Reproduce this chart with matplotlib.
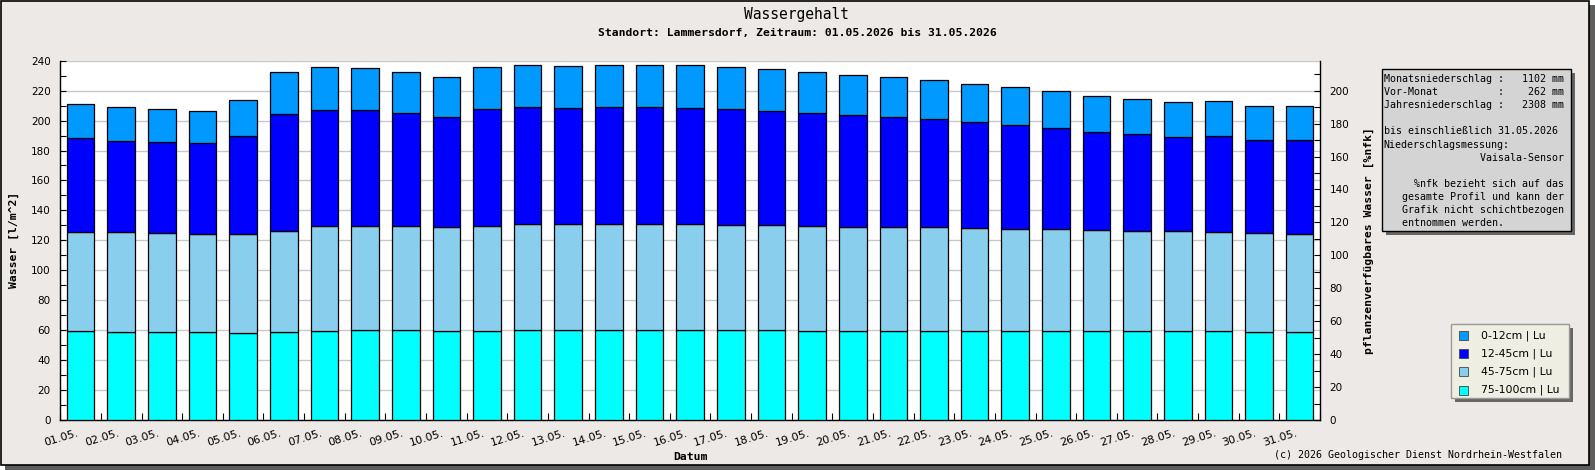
import matplotlib
matplotlib.use('Agg')
import matplotlib.pyplot as plt
import matplotlib.transforms as mtransforms
from matplotlib.patches import Rectangle
from matplotlib.ticker import MultipleLocator
import numpy as np

W, H = 1595, 470

days = [f"{d:02d}.05." for d in range(1, 32)]

layer_75_100 = [59.3, 58.7, 58.7, 58.7, 58.0, 58.7, 59.3, 60.0, 60.0, 59.3,
                59.3, 60.0, 60.0, 60.0, 60.0, 60.0, 60.0, 60.0, 59.3, 59.3,
                59.3, 59.3, 59.3, 59.3, 59.3, 59.3, 59.3, 59.3, 59.3, 58.7, 58.7]
layer_45_75 = [66.5, 67.1, 66.4, 65.7, 66.4, 67.7, 70.5, 69.8, 69.8, 69.8,
               70.5, 71.1, 71.1, 71.1, 71.1, 71.1, 70.4, 70.4, 70.5, 69.8,
               69.8, 69.8, 69.1, 68.5, 68.5, 67.8, 67.1, 67.1, 66.5, 66.4, 65.7]
layer_12_45 = [62.9, 60.6, 60.9, 60.3, 65.6, 78.3, 77.5, 77.5, 75.5, 73.6,
               78.2, 78.0, 77.6, 78.0, 78.0, 77.6, 77.6, 76.3, 75.5, 74.9,
               73.6, 72.2, 70.9, 69.5, 67.5, 65.6, 64.9, 62.9, 64.2, 62.2, 62.9]
layer_0_12 = [22.4, 22.7, 21.8, 21.7, 24.0, 28.0, 28.5, 27.8, 27.4, 26.6,
              27.8, 28.0, 27.7, 28.0, 28.0, 28.4, 27.8, 27.7, 27.4, 26.7,
              26.6, 26.0, 25.4, 25.4, 24.7, 24.0, 23.4, 23.4, 23.3, 22.7, 22.7]

series_labels = ["0-12cm | Lu", "12-45cm | Lu", "45-75cm | Lu", "75-100cm | Lu"]
series_colors = ["#0099FF", "#0000FF", "#8ACEEE", "#00FFFF"]

info_lines = [
    "Monatsniederschlag :   1102 mm",
    "Vor-Monat          :    262 mm",
    "Jahresniederschlag :   2308 mm",
    "",
    "bis einschließlich 31.05.2026",
    "Niederschlagsmessung:",
    "                Vaisala-Sensor",
    "",
    "     %nfk bezieht sich auf das",
    "   gesamte Profil und kann der",
    "   Grafik nicht schichtbezogen",
    "   entnommen werden.",
]

MONO = "DejaVu Sans Mono"
SANS = "DejaVu Sans"


def fx(x):
    return x / W


def fy(y):
    return 1 - y / H


fig = plt.figure(figsize=(W / 100, H / 100), dpi=100)
fig.patch.set_facecolor("white")

# frame shadow and frame
fig.add_artist(Rectangle((fx(5), 0), 1590 / W, 465 / H, transform=fig.transFigure,
                         facecolor="#5E5E5E", edgecolor="none", zorder=-20))
fig.add_artist(Rectangle((fx(0.5), fy(465)), 1588.5 / W, 464.5 / H, transform=fig.transFigure,
                         facecolor="#ECE9E7", edgecolor="black", linewidth=1.2, zorder=-19))

ax_left, ax_right, ax_top, ax_bottom = 60.3, 1320.0, 60.7, 420.0
ax = fig.add_axes([fx(ax_left), fy(ax_bottom), (ax_right - ax_left) / W, (ax_bottom - ax_top) / H])
ax.set_facecolor("white")

x = np.arange(len(days))
bottom = np.zeros(len(days))
stack = [layer_75_100, layer_45_75, layer_12_45, layer_0_12]
stack_colors = series_colors[::-1]
for vals, col in zip(stack, stack_colors):
    vals = np.array(vals)
    ax.bar(x, vals, width=0.68, bottom=bottom, color=col, edgecolor="black",
           linewidth=0.9, zorder=3)
    bottom = bottom + vals

ax.set_xlim(-0.5, len(days) - 0.5)
ax.set_ylim(0, 240)
ax.yaxis.set_major_locator(MultipleLocator(20))
ax.yaxis.set_minor_locator(MultipleLocator(10))
ax.tick_params(axis="y", which="both", direction="in", length=4.5, width=0.8,
               labelsize=7.5, pad=7, colors="black")
ax.grid(axis="y", which="major", color="#C8C8C8", linewidth=1)
ax.set_axisbelow(True)

ax.set_xticks(x)
ax.set_xticklabels(days, rotation=17, ha="right", va="top", rotation_mode="anchor",
                   fontsize=8, family=SANS)
ax.tick_params(axis="x", which="major", length=0, pad=6)
shift = mtransforms.ScaledTranslation(-4 / 100, 0, fig.dpi_scale_trans)
for lbl in ax.get_xticklabels():
    lbl.set_transform(lbl.get_transform() + shift)
ax.set_xticks(np.arange(-0.5, len(days), 1), minor=True)
ax.tick_params(axis="x", which="minor", direction="in", length=5, width=0.8)

for s in ["left", "bottom"]:
    ax.spines[s].set_color("black")
    ax.spines[s].set_linewidth(1)
ax.spines["top"].set_visible(False)
ax.spines["right"].set_visible(False)

ax2 = ax.twinx()
ax2.set_ylim(0, 240 / 1.1)
ax2.yaxis.set_major_locator(MultipleLocator(20))
ax2.yaxis.set_minor_locator(MultipleLocator(10))
ax2.tick_params(axis="y", which="both", direction="in", length=4.5, width=0.8,
                labelsize=7.5, pad=7, colors="black")
ax2.spines["top"].set_visible(False)
ax2.spines["left"].set_visible(False)
ax2.spines["bottom"].set_visible(False)
ax2.spines["right"].set_color("black")
ax2.spines["right"].set_linewidth(1)

# titles and axis labels
fig.text(fx(797), fy(15), "Wassergehalt", ha="center", va="center", family=MONO,
         fontsize=10.5)
fig.text(fx(797), fy(33), "Standort: Lammersdorf, Zeitraum: 01.05.2026 bis 31.05.2026",
         ha="center", va="center", family=MONO, fontsize=8.2, fontweight="bold")
fig.text(fx(14), fy(240.3), "Wasser [l/m^2]", rotation=90, ha="center", va="center",
         family=MONO, fontsize=8.2, fontweight="bold")
fig.text(fx(1369), fy(240.3), "pflanzenverfügbares Wasser [%nfk]", rotation=90,
         ha="center", va="center", family=MONO, fontsize=8.2, fontweight="bold")
fig.text(fx(690), fy(456.5), "Datum", ha="center", va="center", family=MONO,
         fontsize=8.2, fontweight="bold")
fig.text(fx(1562), fy(455), "(c) 2026 Geologischer Dienst Nordrhein-Westfalen",
         ha="right", va="center", family=MONO, fontsize=7.2)

# info box
bx0, by0, bx1, by1 = 1381.7, 69.0, 1570.7, 230.7
fig.add_artist(Rectangle((fx(bx0 + 4), fy(by1 + 4)), (bx1 - bx0) / W, (by1 - by0) / H,
                         transform=fig.transFigure, facecolor="#666666", edgecolor="none",
                         zorder=5))
fig.add_artist(Rectangle((fx(bx0), fy(by1)), (bx1 - bx0) / W, (by1 - by0) / H,
                         transform=fig.transFigure, facecolor="#D4D4D4", edgecolor="black",
                         linewidth=1, zorder=6))
for i, line in enumerate(info_lines):
    if line:
        fig.text(fx(1383.5), fy(79.3 + i * 13.04), line, ha="left", va="center",
                 family=MONO, fontsize=7.2, zorder=7)

# legend
lx0, ly0, lx1, ly1 = 1450.7, 324.3, 1569.3, 398.3
fig.add_artist(Rectangle((fx(lx0 + 4), fy(ly1 + 4)), (lx1 - lx0) / W, (ly1 - ly0) / H,
                         transform=fig.transFigure, facecolor="#666666", edgecolor="none",
                         zorder=5))
fig.add_artist(Rectangle((fx(lx0), fy(ly1)), (lx1 - lx0) / W, (ly1 - ly0) / H,
                         transform=fig.transFigure, facecolor="#EEEEE2", edgecolor="#999999",
                         linewidth=1, zorder=6))
for i, (lab, col) in enumerate(zip(series_labels, series_colors)):
    yc = 335.7 + i * 18.1
    fig.add_artist(Rectangle((fx(1459), fy(yc + 4.5)), 9 / W, 9 / H, transform=fig.transFigure,
                             facecolor=col, edgecolor="#444444", linewidth=0.6, zorder=7))
    fig.text(fx(1480.7), fy(yc), lab, ha="left", va="center", family=SANS,
             fontsize=7.8, zorder=7)

fig.savefig("out.png", dpi=100, facecolor=fig.get_facecolor())
